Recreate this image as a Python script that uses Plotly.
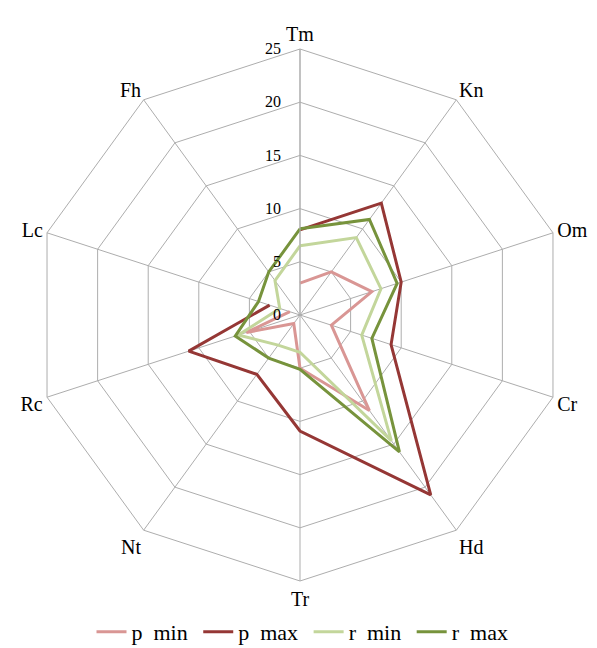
import plotly.graph_objects as go

categories = ["Tm", "Kn", "Om", "Cr", "Hd", "Tr", "Nt", "Rc", "Lc", "Fh"]
p_min = [3.0, 5.0, 7.1, 3.1, 11.1, 5.0, 1.0, 5.3, 1.0, None]
p_max = [8.0, 13.0, 10.0, 9.0, 20.9, 10.9, 6.9, 11.0, 3.0, None]
r_min = [6.5, 9.0, 8.0, 6.1, 14.6, 3.5, 3.5, 6.1, 2.0, 4.0]
r_max = [8.1, 11.1, 9.6, 7.1, 15.9, 5.1, 5.0, 6.4, 4.1, 5.0]
series_names = ["p\u00a0\u00a0min\u00a0", "p\u00a0\u00a0max\u00a0", "r\u00a0\u00a0min\u00a0", "r\u00a0\u00a0max"]
series_values = [p_min, p_max, r_min, r_max]
series_colors = ["#D99694", "#953735", "#C3D69B", "#77933C"]
radial_ticks = [0, 5, 10, 15, 20, 25]

fig = go.Figure()
for name, vals, col in zip(series_names, series_values, series_colors):
    fig.add_trace(go.Scatterpolar(
        r=vals + [vals[0]],
        theta=categories + [categories[0]],
        mode="lines",
        name=name,
        connectgaps=False,
        line=dict(color=col, width=3),
    ))

font_family = "Liberation Serif, Times New Roman, serif"
# the page body adds an 8px margin, so the figure is 8px smaller than the window
fig.update_layout(
    width=589, height=640,
    margin=dict(l=26, r=31, t=41, b=67),
    paper_bgcolor="white",
    plot_bgcolor="white",
    font=dict(family=font_family, color="black"),
    showlegend=True,
    legend=dict(orientation="h", xref="container", yref="container",
                x=0.5, xanchor="center", y=0.025, yanchor="middle",
                bgcolor="rgba(0,0,0,0)",
                font=dict(size=22, family=font_family), itemwidth=30,
                tracegroupgap=0),
    polar=dict(
        domain=dict(x=[0, 1], y=[0, 1]),
        bgcolor="white",
        gridshape="linear",
        radialaxis=dict(
            range=[0, 25], tickvals=radial_ticks, ticktext=[str(t) for t in radial_ticks],
            angle=90, tickangle=90, side="counterclockwise",
            showline=True, linecolor="#ADADAD", linewidth=1,
            gridcolor="#ADADAD", gridwidth=1,
            ticks="outside", ticklen=13, tickcolor="rgba(0,0,0,0)",
            tickfont=dict(size=16, family=font_family),
        ),
        angularaxis=dict(
            rotation=90, direction="clockwise",
            showline=True, linecolor="#ADADAD", linewidth=1,
            gridcolor="#ADADAD", gridwidth=1,
            ticks="",
            tickfont=dict(size=20, family=font_family),
        ),
    ),
)

fig.write_html("out.html")
